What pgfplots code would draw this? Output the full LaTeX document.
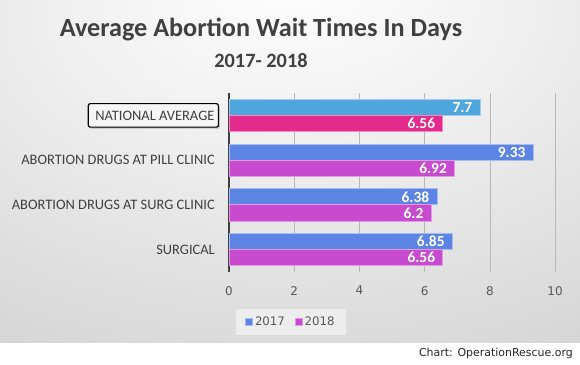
\documentclass[border=0pt]{standalone}
\usepackage{fontspec}
\setmainfont{Carlito}
\newfontfamily\dejavu{DejaVu Sans}
\usepackage{pgfplots}
\pgfplotsset{compat=1.18}
\usetikzlibrary{shadows}
\definecolor{bA}{HTML}{5B84E5}
\definecolor{pA}{HTML}{C84ACE}
\definecolor{bN}{HTML}{4FA6DD}
\definecolor{pN}{HTML}{E42A8C}
\definecolor{txt}{HTML}{404040}
\definecolor{tickc}{HTML}{595959}
\pgfdeclareradialshading{bgshade}{\pgfpoint{0bp}{30bp}}{color(0bp)=(white); color(20bp)=(black!6); color(55bp)=(black!19); color(100bp)=(black!24)}
\begin{document}
\begin{tikzpicture}
\useasboundingbox (0bp,0bp) rectangle (580bp,365bp);
\fill[white] (0bp,0bp) rectangle (580bp,365bp);
\shade[shading=bgshade] (0bp,22bp) rectangle (580bp,365bp);
\node[anchor=base, font=\bfseries\fontsize{26.3}{30}\selectfont, text=txt] at (261bp,328bp) {Average Abortion Wait Times In Days};
\node[anchor=base, font=\bfseries\fontsize{20.4}{24}\selectfont, text=txt] at (261bp,297bp) {2017- 2018};
\node[anchor=base east, font=\dejavu\fontsize{11}{13}\selectfont, text=black!85, inner sep=0pt] at (573bp,9bp) {Chart: OperationRescue.org};
\begin{axis}[
  at={(229bp,93bp)}, anchor=south west,
  scale only axis, width=326bp, height=179bp,
  xmin=0, xmax=10, ymin=-0.5, ymax=3.5,
  clip=false,
  xbar, bar width=0.36,
  axis y line*=left, axis x line*=bottom,
  x axis line style={draw=none},
  y axis line style={line width=2bp, draw=txt},
  xtick={0,2,4,6,8,10}, major tick length=0pt,
  xmajorgrids, grid style={draw=black!28, line width=0.6bp},
  ytick={0,1,2,3},
  yticklabels={SURGICAL, ABORTION DRUGS AT SURG CLINIC, ABORTION DRUGS AT PILL CLINIC, {}},
  yticklabel style={font=\fontsize{14.5}{16}\selectfont, text=txt, inner sep=0pt, xshift=-14bp},
  xticklabel style={font=\dejavu\fontsize{12}{14}\selectfont, text=tickc, inner sep=0pt, yshift=-14bp},
  /pgf/number format/assume math mode=true,
  point meta=x,
  nodes near coords,
  every node near coord/.append style={anchor=east, xshift=-4bp, text=white, font=\bfseries\fontsize{15.5}{17}\selectfont},
  legend style={at={(axis description cs:0.0215,-0.207)}, anchor=north west, fill=black!7, draw=none,
    font=\dejavu\fontsize{11.8}{13}\selectfont, text=tickc, inner xsep=9bp, inner ysep=6bp},
  legend columns=2,
  legend image code/.code={\fill[#1] (0bp,-3.5bp) rectangle (7bp,3.5bp);},
  /tikz/every even column/.append style={column sep=8bp},
]
\addplot[fill=bA, draw=bA!55!white, line width=0.8bp, bar shift=0.18] coordinates {(9.33,2) (6.38,1) (6.85,0)};
\addplot[fill=pA, draw=pA!55!white, line width=0.8bp, bar shift=-0.18] coordinates {(6.92,2) (6.2,1) (6.56,0)};
\addplot[fill=bN, draw=bN!55!white, line width=0.8bp, bar shift=0.18, forget plot] coordinates {(7.7,3)};
\addplot[fill=pN, draw=pN!55!white, line width=0.8bp, bar shift=-0.18, forget plot] coordinates {(6.56,3)};
\legend{2017,2018}
\node[anchor=east, xshift=-10bp, draw=black, line width=1.2bp, rounded corners=2bp, fill=black!4,
  drop shadow={shadow xshift=1.5bp, shadow yshift=-1.5bp, opacity=0.45},
  inner xsep=4bp, inner ysep=7bp, font=\fontsize{14.5}{16}\selectfont, text=txt] at (axis cs:0,3) {\hspace*{3bp}NATIONAL AVERAGE};
\end{axis}
\end{tikzpicture}
\end{document}
